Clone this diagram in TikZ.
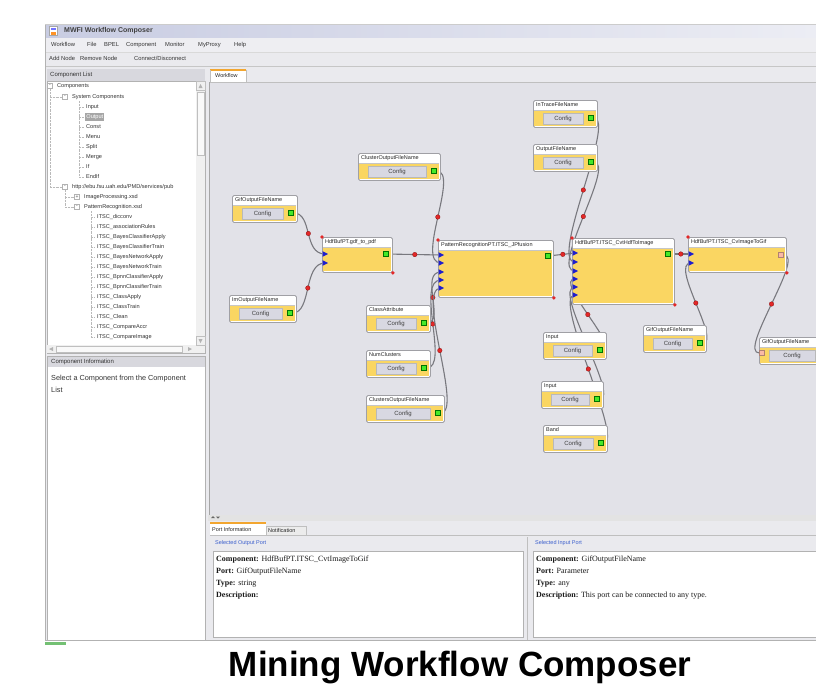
\documentclass[tikz,border=0pt]{standalone}
\usepackage{fontspec}
\setmainfont{Liberation Sans}
\newfontfamily\infofont{Liberation Serif}
\usetikzlibrary{calc}
\pgfdeclarelayer{bg}
\pgfdeclarelayer{wires}
\pgfsetlayers{bg,wires,main}
\definecolor{canvasbg}{RGB}{226,226,232}
\definecolor{chrome}{RGB}{234,234,238}
\definecolor{menubg}{RGB}{238,238,242}
\definecolor{hdr}{RGB}{216,216,222}
\definecolor{tbA}{RGB}{200,204,226}
\definecolor{tbB}{RGB}{236,237,244}
\definecolor{nodeyel}{RGB}{250,214,98}
\definecolor{nodeframe}{RGB}{160,160,165}
\definecolor{btn}{RGB}{216,216,226}
\definecolor{portgreen}{RGB}{70,232,40}
\definecolor{portblue}{RGB}{30,30,205}
\definecolor{portpink}{RGB}{250,185,165}
\definecolor{dotred}{RGB}{226,40,40}
\definecolor{wirecol}{RGB}{120,120,126}
\definecolor{tabline}{RGB}{242,166,48}
\definecolor{linkblue}{RGB}{60,95,205}
\newcommand\cfgbox[5]{%
  \node[nodebox, minimum width=#4pt, minimum height=27pt] (#1) at (#2,#3) {};
  \fill[nodeyel] (#2+0.8,#3+10) rectangle (#2+#4-0.8,#3+26.2);
  \draw[gray!45, line width=0.4pt] (#2+0.8,#3+10) -- (#2+#4-0.8,#3+10);
  \node[cfgbtn, minimum width={(#4-24)*1pt}, minimum height=11pt] (#1-c) at (#2+#4/2-2,#3+18.5) {Config};
  \node[ui] (#1-l) at (#2+3,#3+5.5) {#5};
  \node[gport] (#1-o) at (#2+#4-6,#3+18) {};
}
\newcommand\bignode[6]{%
  \node[nodebox, minimum width=#4pt, minimum height=#5pt] (#1) at (#2,#3) {};
  \fill[nodeyel] (#2+0.8,#3+10) rectangle (#2+#4-0.8,#3+#5-0.8);
  \draw[gray!45, line width=0.4pt] (#2+0.8,#3+10) -- (#2+#4-0.8,#3+10);
  \node[ui] (#1-l) at (#2+3,#3+5.5) {#6};
  \node[handle] (#1-h1) at (#1.north west) {};
  \node[handle] (#1-h2) at (#1.south east) {};
}
\newcommand\bport[3]{%
  \coordinate (#1) at (#2,#3);
  \fill[portblue] (#2-2.5,#3-2.8) -- (#2+3,#3) -- (#2-2.5,#3+2.8) -- cycle;
}
\begin{document}
\begin{tikzpicture}[x=1pt,y=-1pt,
  ui/.style={font=\fontsize{5.5}{6}\selectfont, inner sep=0pt, anchor=west, text=black!85, text height=4pt, text depth=1.2pt},
  menu/.style={font=\fontsize{5.8}{7}\selectfont, inner sep=0pt, anchor=west, text=black!80, text height=4.2pt, text depth=1.3pt},
  treetxt/.style={font=\fontsize{5.6}{7}\selectfont, inner sep=0pt, anchor=west, text=black!80, text height=4.1pt, text depth=1.2pt},
  hdrtxt/.style={font=\fontsize{6}{7}\selectfont, inner sep=0pt, anchor=west, text=black!80, text height=4.4pt, text depth=1.3pt},
  seltxt/.style={font=\fontsize{7.3}{8}\selectfont, inner sep=0pt, anchor=west, text=black!80, text height=5.3pt, text depth=1.6pt},
  titletxt/.style={font=\fontsize{7}{8}\selectfont\bfseries, inner sep=0pt, anchor=west, text=black!75, text height=5.1pt, text depth=1.5pt},
  info/.style={font=\infofont\fontsize{8}{9}\selectfont, inner sep=0pt, anchor=west, text=black!90, text height=5.6pt, text depth=1.8pt},
  linktxt/.style={font=\fontsize{5.5}{6}\selectfont, inner sep=0pt, anchor=west, text=linkblue, text height=4pt, text depth=1.2pt},
  nodebox/.style={draw=nodeframe, fill=white, rounded corners=1.5pt, line width=0.9pt, inner sep=0pt, anchor=north west},
  cfgbtn/.style={draw=gray!55, fill=btn, inner sep=0pt, font=\fontsize{6}{6}\selectfont, text=black!75},
  gport/.style={fill=portgreen, draw=green!45!black, line width=0.2pt, minimum size=5pt, inner sep=0pt},
  pport/.style={fill=portpink, draw=portpink!70!black, line width=0.2pt, minimum size=5pt, inner sep=0pt},
  reddot/.style={circle, fill=dotred, draw=red!45!black, line width=0.2pt, minimum size=4.6pt, inner sep=0pt},
  handle/.style={circle, fill=dotred, minimum size=3.8pt, inner sep=0pt},
  wire/.style={draw=wirecol, line width=1.1pt},
  expbox/.style={draw=gray!60, fill=white, minimum size=5pt, inner sep=0pt, font=\fontsize{5}{5}\selectfont, text=black!70},
  treeline/.style={draw=gray!55, densely dotted, line width=0.4pt},
  bigtitle/.style={font=\fontsize{35}{35}\selectfont\bfseries, inner sep=0pt, anchor=base, text=black}
]
\useasboundingbox (0,0) rectangle (816,691);
\begin{pgfonlayer}{bg}
\fill[white] (0,0) rectangle (816,691);
% window chrome
\fill[chrome] (45,24) rectangle (816,641);
\shade[left color=tbA, right color=tbB] (45,24) rectangle (816,38);
\draw[gray!60, line width=0.8pt] (45.4,24) -- (45.4,641);
\draw[gray!40] (45,24.3) -- (816,24.3);
\node[draw=gray!70, fill=white, minimum width=8pt, minimum height=9pt, inner sep=0pt] (wicon) at (53,31) {};
\fill[blue!55] (50.5,28) rectangle (55.5,30);
\fill[orange!85] (50.5,32) rectangle (55.5,34.5);
\node[titletxt] (wtitle) at (64,31) {MWFI Workflow Composer};
% menu bar
\fill[menubg] (46,38) rectangle (816,52);
\node[menu] (m1) at (51,45) {Workflow};
\node[menu] (m2) at (87,45) {File};
\node[menu] (m3) at (104,45) {BPEL};
\node[menu] (m4) at (126,45) {Component};
\node[menu] (m5) at (165,45) {Monitor};
\node[menu] (m6) at (198,45) {MyProxy};
\node[menu] (m7) at (234,45) {Help};
\draw[gray!30] (46,52.5) -- (816,52.5);
% toolbar
\node[menu] (b1) at (49,59.5) {Add Node};
\node[menu] (b2) at (80,59.5) {Remove Node};
\node[menu] (b3) at (134,59.5) {Connect/Disconnect};
\draw[gray!45] (46,66.5) -- (816,66.5);
% left panel: component list
\fill[hdr] (47,69) rectangle (205,81);
\node[hdrtxt] (hcl) at (50,75) {Component List};
\fill[white] (47,81) rectangle (205,345);
\draw[gray!60] (47,81) rectangle (205,353);
% horizontal scrollbar
\fill[gray!12] (47,345) rectangle (205,353);
\draw[gray!50, fill=gray!5] (56,346) rectangle (182,352);
\fill[gray!60] (53,347) -- (49,349) -- (53,351) -- cycle;
\fill[gray!60] (188,347) -- (192,349) -- (188,351) -- cycle;
% tree
\node[expbox] (e1) at (50,86) {-};
\node[treetxt] (tcomp) at (57,86) {Components};
\draw[treeline] (50,89) -- (50,187);
\draw[treeline] (50,97) -- (62,97);
\draw[treeline] (50,187) -- (62,187);
\node[expbox] (e2) at (65,97) {-};
\node[treetxt] (tsys) at (72,97) {System Components};
\draw[treeline] (79,101) -- (79,177);
\foreach \t/\yy [count=\i] in {Input/107,Const/127,Menu/137,Split/147,Merge/157,If/167,EndIf/177}
  {\draw[treeline] (79,\yy) -- (84,\yy); \node[treetxt] (sys\i) at (86,\yy) {\t};}
\draw[treeline] (79,117) -- (84,117);
\node[treetxt, fill=gray!70, text=white, inner xsep=1.2pt, inner ysep=1.2pt] (tout) at (85,117) {Output};
\node[expbox] (e3) at (65,187) {-};
\node[treetxt] (thttp) at (72,187) {http://ebu.fsu.uah.edu/PMD/services/pub};
\draw[treeline] (65,190) -- (65,207);
\draw[treeline] (65,197) -- (74,197);
\draw[treeline] (65,207) -- (74,207);
\node[expbox] (e4) at (77,197) {+};
\node[treetxt] (timg) at (84,197) {ImageProcessing.xsd};
\node[expbox] (e5) at (77,207) {-};
\node[treetxt] (tpat) at (84,207) {PatternRecognition.xsd};
\draw[treeline] (91,211) -- (91,337);
\foreach \t [count=\i] in {dicconv,associationRules,BayesClassifierApply,BayesClassifierTrain,BayesNetworkApply,BayesNetworkTrain,BpnnClassifierApply,BpnnClassifierTrain,ClassApply,ClassTrain,Clean,CompareAccr,CompareImage}
  {\draw[treeline] (91,207+10*\i) -- (95,207+10*\i); \node[treetxt] (itsc\i) at (97,207+10*\i) {ITSC\_\t};}
% vertical scrollbar
\fill[gray!12] (196,81) rectangle (205,345);
\draw[gray!50] (196,81) rectangle (205,90);
\fill[gray!60] (198.5,88) -- (200.5,84) -- (202.5,88) -- cycle;
\draw[gray!50, fill=gray!5] (197,92) rectangle (204,155);
\draw[gray!50] (196,336) rectangle (205,345);
\fill[gray!60] (198.5,339) -- (200.5,343) -- (202.5,339) -- cycle;
% component information
\fill[hdr] (47,356) rectangle (205,367);
\node[hdrtxt] (hci) at (51,361.5) {Component Information};
\fill[white] (47,367) rectangle (205,640);
\draw[gray!60] (47,356) rectangle (205,640);
\node[seltxt] (sel1) at (51,379) {Select a Component from the Component};
\node[seltxt] (sel2) at (51,391) {List};
% workflow tab and canvas
\fill[white] (210,70) rectangle (246,82);
\fill[tabline] (210,69.3) rectangle (246,71);
\draw[gray!50] (210,70) -- (210,82) (246,70) -- (246,82);
\node[ui] (tabwf) at (215,76.5) {Workflow};
\fill[canvasbg] (210,82) rectangle (816,515);
\draw[gray!70] (209.5,82) -- (209.5,515);
\draw[gray!50] (209.5,82) -- (816,82);
% splitter
\fill[gray!22] (208,515) rectangle (816,521);
\fill[black!60] (211,518) -- (213,516) -- (215,518) -- cycle;
\fill[black!60] (216,516.5) -- (218,518.5) -- (220,516.5) -- cycle;
% bottom panel
\fill[white] (210,523) rectangle (266,535);
\fill[tabline] (210,522.3) rectangle (266,524);
\node[ui] (tpi) at (212,530) {Port Information};
\fill[gray!15] (266,526) rectangle (306,535);
\draw[gray!50] (266,526) rectangle (306,535);
\node[ui] (tno) at (268,531) {Notification};
\draw[gray!50] (210,535) -- (816,535);
\node[linktxt] (sop) at (215,543) {Selected Output Port};
\fill[white] (213,551) rectangle (523,637);
\draw[gray!60] (213,551) rectangle (523,637);
\draw[gray!50] (527.5,537) -- (527.5,640);
\node[linktxt] (sip) at (535,543) {Selected Input Port};
\fill[white] (533,551) rectangle (816,637);
\draw[gray!60] (533,551) -- (533,637) -- (816,637) (533,551) -- (816,551);
\node[info] (o1) at (216,560) {\textbf{Component:} HdfBufPT.ITSC\_CvtImageToGif};
\node[info] (o2) at (216,572) {\textbf{Port:} GifOutputFileName};
\node[info] (o3) at (216,584) {\textbf{Type:} string};
\node[info] (o4) at (216,596) {\textbf{Description:}};
\node[info] (i1) at (536,560) {\textbf{Component:} GifOutputFileName};
\node[info] (i2) at (536,572) {\textbf{Port:} Parameter};
\node[info] (i3) at (536,584) {\textbf{Type:} any};
\node[info] (i4) at (536,596) {\textbf{Description:} This port can be connected to any type.};
\draw[gray!60] (45,640.5) -- (816,640.5);
\fill[green!55!black!55] (45,642) rectangle (66,645);
\end{pgfonlayer}

% ---- workflow nodes ----
\cfgbox{n1}{232}{195}{65}{GifOutputFileName}
\cfgbox{n2}{229}{295}{67}{ImOutputFileName}
\cfgbox{n3}{358}{153}{82}{ClusterOutputFileName}
\cfgbox{n4}{533}{100}{64}{InTraceFileName}
\cfgbox{n5}{533}{144}{64}{OutputFileName}
\cfgbox{n6}{366}{305}{64}{ClassAttribute}
\cfgbox{n7}{366}{350}{64}{NumClusters}
\cfgbox{n8}{366}{395}{78}{ClustersOutputFileName}
\cfgbox{n9}{543}{332}{63}{Input}
\cfgbox{n10}{541}{381}{62}{Input}
\cfgbox{n11}{543}{425}{64}{Band}
\cfgbox{n12}{643}{325}{63}{GifOutputFileName}
\cfgbox{n13}{759}{337}{70}{GifOutputFileName}
\node[pport] (n13-i) at (762,353) {};

\bignode{A}{322}{237}{70}{35}{HdfBufPT.gdf\_to\_pdf}
\bignode{B}{438}{240}{115}{57}{PatternRecognitionPT.ITSC\_JPfusion}
\bignode{C}{572}{238}{102}{66}{HdfBufPT.ITSC\_CvtHdfToImage}
\bignode{D}{688}{237}{98}{35}{HdfBufPT.ITSC\_CvImageToGif}

\bport{A-i1}{325}{254}
\bport{A-i2}{325}{263}
\node[gport] (A-o) at (386,254) {};
\bport{B-i1}{441}{255}
\bport{B-i2}{441}{263}
\bport{B-i3}{441}{272}
\bport{B-i4}{441}{280}
\bport{B-i5}{441}{288}
\node[gport] (B-o) at (548,256) {};
\bport{C-i1}{575}{253}
\bport{C-i2}{575}{262}
\bport{C-i3}{575}{271}
\bport{C-i4}{575}{279}
\bport{C-i5}{575}{287}
\bport{C-i6}{575}{295}
\node[gport] (C-o) at (668,254) {};
\bport{D-i1}{691}{254}
\bport{D-i2}{691}{263}
\node[pport] (D-o) at (781,255) {};

% ---- connectors ----
\begin{pgfonlayer}{wires}
\draw[wire] (n1-o) .. controls +(22,0) and +(-22,0) .. (A-i1) node[reddot,pos=0.5] (w1) {};
\draw[wire] (n2-o) .. controls +(22,0) and +(-22,0) .. (A-i2) node[reddot,pos=0.5] (w2) {};
\draw[wire] (A-o) -- (B-i1) node[reddot,midway] (w3) {};
\draw[wire] (n3-o) .. controls +(26,0) and +(-26,0) .. (B-i2) node[reddot,pos=0.5] (w4) {};
\draw[wire] (n6-o) .. controls +(22,0) and +(-22,0) .. (B-i3) node[reddot,pos=0.5] (w5) {};
\draw[wire] (n7-o) .. controls +(26,0) and +(-26,0) .. (B-i4) node[reddot,pos=0.5] (w6) {};
\draw[wire] (n8-o) .. controls +(26,0) and +(-26,0) .. (B-i5) node[reddot,pos=0.5] (w7) {};
\draw[wire] (B-o) -- (C-i1) node[reddot,midway] (w8) {};
\draw[wire] (n4-o) .. controls +(26,0) and +(-26,0) .. (C-i2) node[reddot,pos=0.5] (w9) {};
\draw[wire] (n5-o) .. controls +(26,0) and +(-26,0) .. (C-i3) node[reddot,pos=0.5] (w10) {};
\draw[wire] (n9-o) .. controls +(22,0) and +(-22,0) .. (C-i4) node[reddot,pos=0.5] (w11) {};
\draw[wire] (n10-o) .. controls +(24,0) and +(-24,0) .. (C-i5) node[reddot,pos=0.5] (w12) {};
\draw[wire] (n11-o) .. controls +(24,0) and +(-24,0) .. (C-i6) node[reddot,pos=0.5] (w13) {};
\draw[wire] (C-o) -- (D-i1) node[reddot,midway] (w14) {};
\draw[wire] (n12-o) .. controls +(22,0) and +(-22,0) .. (D-i2) node[reddot,pos=0.5] (w15) {};
\draw[wire] (D-o) .. controls +(25,0) and +(-25,0) .. (n13-i) node[reddot,pos=0.5] (w16) {};
\end{pgfonlayer}

% ---- caption ----
\node[bigtitle] (caption) at (460,676) {Mining Workflow Composer};
\end{tikzpicture}
\end{document}
